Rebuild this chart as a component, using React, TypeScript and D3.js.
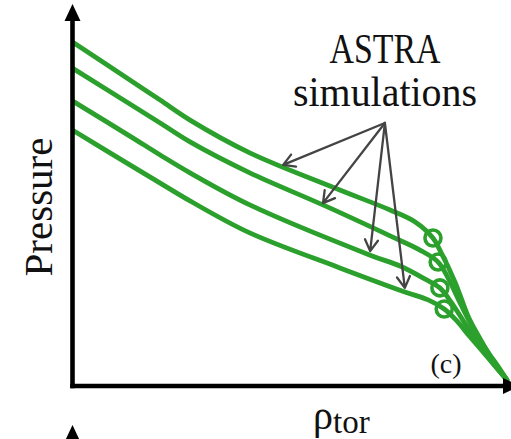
import React from "react";
import * as d3 from "d3";

const W = 511;
const H = 439;

// Normalised pressure profiles p(ρ_tor) from four ASTRA runs
const run1Rho = [0, 0.129, 0.199, 0.268, 0.406, 0.614, 0.73, 0.788, 0.845, 0.88, 0.912, 0.938, 0.965, 1.0];
const run1P = [0.937, 0.835, 0.78, 0.725, 0.635, 0.533, 0.478, 0.445, 0.368, 0.28, 0.181, 0.124, 0.069, 0.011];

const run2Rho = [0, 0.129, 0.199, 0.268, 0.406, 0.575, 0.73, 0.799, 0.864, 0.894, 0.924, 0.956, 0.982, 1.0];
const run2P = [0.865, 0.769, 0.717, 0.665, 0.58, 0.492, 0.407, 0.368, 0.291, 0.217, 0.148, 0.088, 0.044, 0.011];

const run3Rho = [0, 0.129, 0.199, 0.268, 0.406, 0.684, 0.753, 0.811, 0.871, 0.901, 0.931, 0.961, 0.984, 1.0];
const run3P = [0.775, 0.681, 0.629, 0.58, 0.492, 0.354, 0.324, 0.288, 0.225, 0.17, 0.115, 0.066, 0.033, 0.011];

const run4Rho = [0, 0.129, 0.199, 0.268, 0.406, 0.614, 0.764, 0.818, 0.882, 0.915, 0.947, 0.979, 1.0];
const run4P = [0.695, 0.602, 0.552, 0.503, 0.415, 0.319, 0.253, 0.231, 0.176, 0.129, 0.085, 0.041, 0.011];

// Pedestal top of each run (marked with a circle)
const pedRho = [0.829, 0.841, 0.845, 0.855];
const pedP = [0.401, 0.335, 0.264, 0.206];

// Callout: label anchor and arrow tips on the profiles
const calloutRho = 0.718;
const calloutP = 0.717;
const tipRho = [0.483, 0.575, 0.684, 0.764];
const tipP = [0.602, 0.497, 0.365, 0.264];

const labelLines = ["ASTRA", "simulations"];

const GREEN = "#2ca02c";
const ARROW = "#444444";
const FONT = "Liberation Serif, DejaVu Serif, serif";

const x = d3.scaleLinear().domain([0, 1]).range([74, 507]);
const y = d3.scaleLinear().domain([0, 1]).range([384, 20]);

const runs = [
  [run1Rho, run1P],
  [run2Rho, run2P],
  [run3Rho, run3P],
  [run4Rho, run4P],
];

const profiles = runs.map(([rho, p], i) => {
  const pts: [number, number][] = rho.map((r, k) => [r, p[k]]);
  pts.push([pedRho[i], pedP[i]]);
  pts.sort((a, b) => a[0] - b[0]);
  return pts;
});

const line = d3
  .line<[number, number]>()
  .x((d) => x(d[0]))
  .y((d) => y(d[1]))
  .curve(d3.curveCatmullRom.alpha(0.5));

function arrowPath(x0: number, y0: number, x1: number, y1: number) {
  const ang = Math.atan2(y1 - y0, x1 - x0);
  const len = 13;
  const spread = (30 * Math.PI) / 180;
  const a1 = ang + Math.PI - spread;
  const a2 = ang + Math.PI + spread;
  return (
    `M${x0},${y0}L${x1},${y1}` +
    `M${x1 + len * Math.cos(a1)},${y1 + len * Math.sin(a1)}L${x1},${y1}` +
    `L${x1 + len * Math.cos(a2)},${y1 + len * Math.sin(a2)}`
  );
}

export default function App() {
  const axisX = 72.5;
  const axisY = 386;
  const ox = x(calloutRho);
  const oy = y(calloutP);

  return (
    <svg
      width={W}
      height={H}
      viewBox={`0 0 ${W} ${H}`}
      style={{ position: "absolute", left: 0, top: 0, background: "#fff" }}
    >
      {/* profiles */}
      <g fill="none" stroke={GREEN} strokeWidth={4.8} strokeLinecap="round" strokeLinejoin="round">
        {profiles.map((pts, i) => (
          <path key={i} d={line(pts) ?? ""} />
        ))}
      </g>
      {/* pedestal markers */}
      <g fill="none" stroke={GREEN} strokeWidth={3.6}>
        {pedRho.map((r, i) => (
          <circle key={i} cx={x(r)} cy={y(pedP[i])} r={8} />
        ))}
      </g>

      {/* axes */}
      <g fill="#000" stroke="#000">
        <line x1={axisX} y1={18} x2={axisX} y2={axisY + 2.3} strokeWidth={4.6} />
        <path d={`M${axisX},4L${axisX - 8},21L${axisX + 8},21Z`} stroke="none" />
        <line x1={axisX - 2.3} y1={axisY} x2={506} y2={axisY} strokeWidth={4.6} />
        <path d={`M520,${axisY}L503,${axisY - 8}L503,${axisY + 8}Z`} stroke="none" />
        <path d={`M${axisX},425L${axisX - 8},442L${axisX + 8},442Z`} stroke="none" />
      </g>

      {/* callout arrows */}
      <g fill="none" stroke={ARROW} strokeWidth={2.3} strokeLinecap="round" strokeLinejoin="round">
        {tipRho.map((r, i) => (
          <path key={i} d={arrowPath(ox, oy, x(r), y(tipP[i]))} />
        ))}
      </g>

      {/* callout label */}
      <g style={{ fontFamily: FONT }} fontSize={42} fill="#111" textAnchor="middle">
        <text x={385} y={63} textLength={111} lengthAdjust="spacingAndGlyphs">
          {labelLines[0]}
        </text>
        <text x={385} y={106} textLength={184} lengthAdjust="spacingAndGlyphs">
          {labelLines[1]}
        </text>
      </g>

      {/* axis titles */}
      <text
        transform="translate(52,207) rotate(-90)"
        style={{ fontFamily: FONT }}
        fontSize={41}
        textAnchor="middle"
        fill="#111"
      >
        Pressure
      </text>
      <text x={313} y={429} style={{ fontFamily: FONT }} fontSize={40} fill="#111">
        <tspan>ρ</tspan>
        <tspan fontSize={33} dy={4}>
          tor
        </tspan>
      </text>
      <text x={446} y={373} style={{ fontFamily: FONT }} fontSize={28} textAnchor="middle" fill="#111">
        (c)
      </text>
    </svg>
  );
}
